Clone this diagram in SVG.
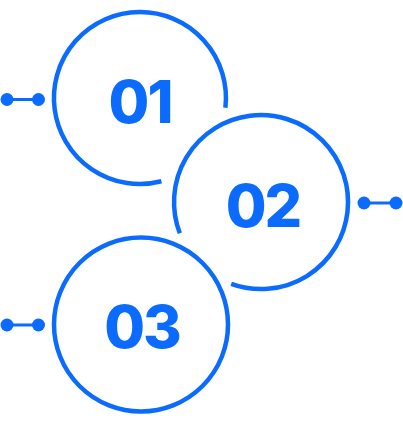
<svg xmlns="http://www.w3.org/2000/svg" width="403" height="425" viewBox="0 0 403 425">
<style>
.ring{fill:none;stroke:#0b6bff;stroke-width:4.5}
.num{fill:#0b6bff;font-family:Inter,Roboto,"Liberation Sans",sans-serif;font-weight:800;font-size:59px;letter-spacing:-2px;text-anchor:middle}
.link{stroke:#0b6bff;stroke-width:3}
.dot{fill:#0b6bff}
</style>
<rect width="403" height="425" fill="#fff"/>
<g id="connectors">
<line class="link" x1="7" y1="99.5" x2="39" y2="99.5"/>
<circle class="dot" cx="7" cy="99.5" r="6.5"/>
<circle class="dot" cx="38.5" cy="99.5" r="6.5"/>
<line class="link" x1="364" y1="203" x2="396" y2="203"/>
<circle class="dot" cx="364" cy="203" r="6.5"/>
<circle class="dot" cx="396" cy="203" r="6.5"/>
<line class="link" x1="7" y1="325" x2="39" y2="325"/>
<circle class="dot" cx="7" cy="325" r="6.5"/>
<circle class="dot" cx="38.5" cy="325" r="6.5"/>
</g>
<g id="node01">
<path class="ring" d="M161.4,181.3 A86,86 0 1 1 225.4,107.7"/>
<text class="num" x="140" y="123">01</text>
</g>
<g id="node02">
<path class="ring" d="M179.8,233.2 A87,87 0 1 1 231.2,283.8"/>
<text class="num" x="263" y="227">02</text>
</g>
<g id="node03">
<circle class="ring" cx="141" cy="324.5" r="87"/>
<text class="num" x="142" y="348">03</text>
</g>
</svg>
